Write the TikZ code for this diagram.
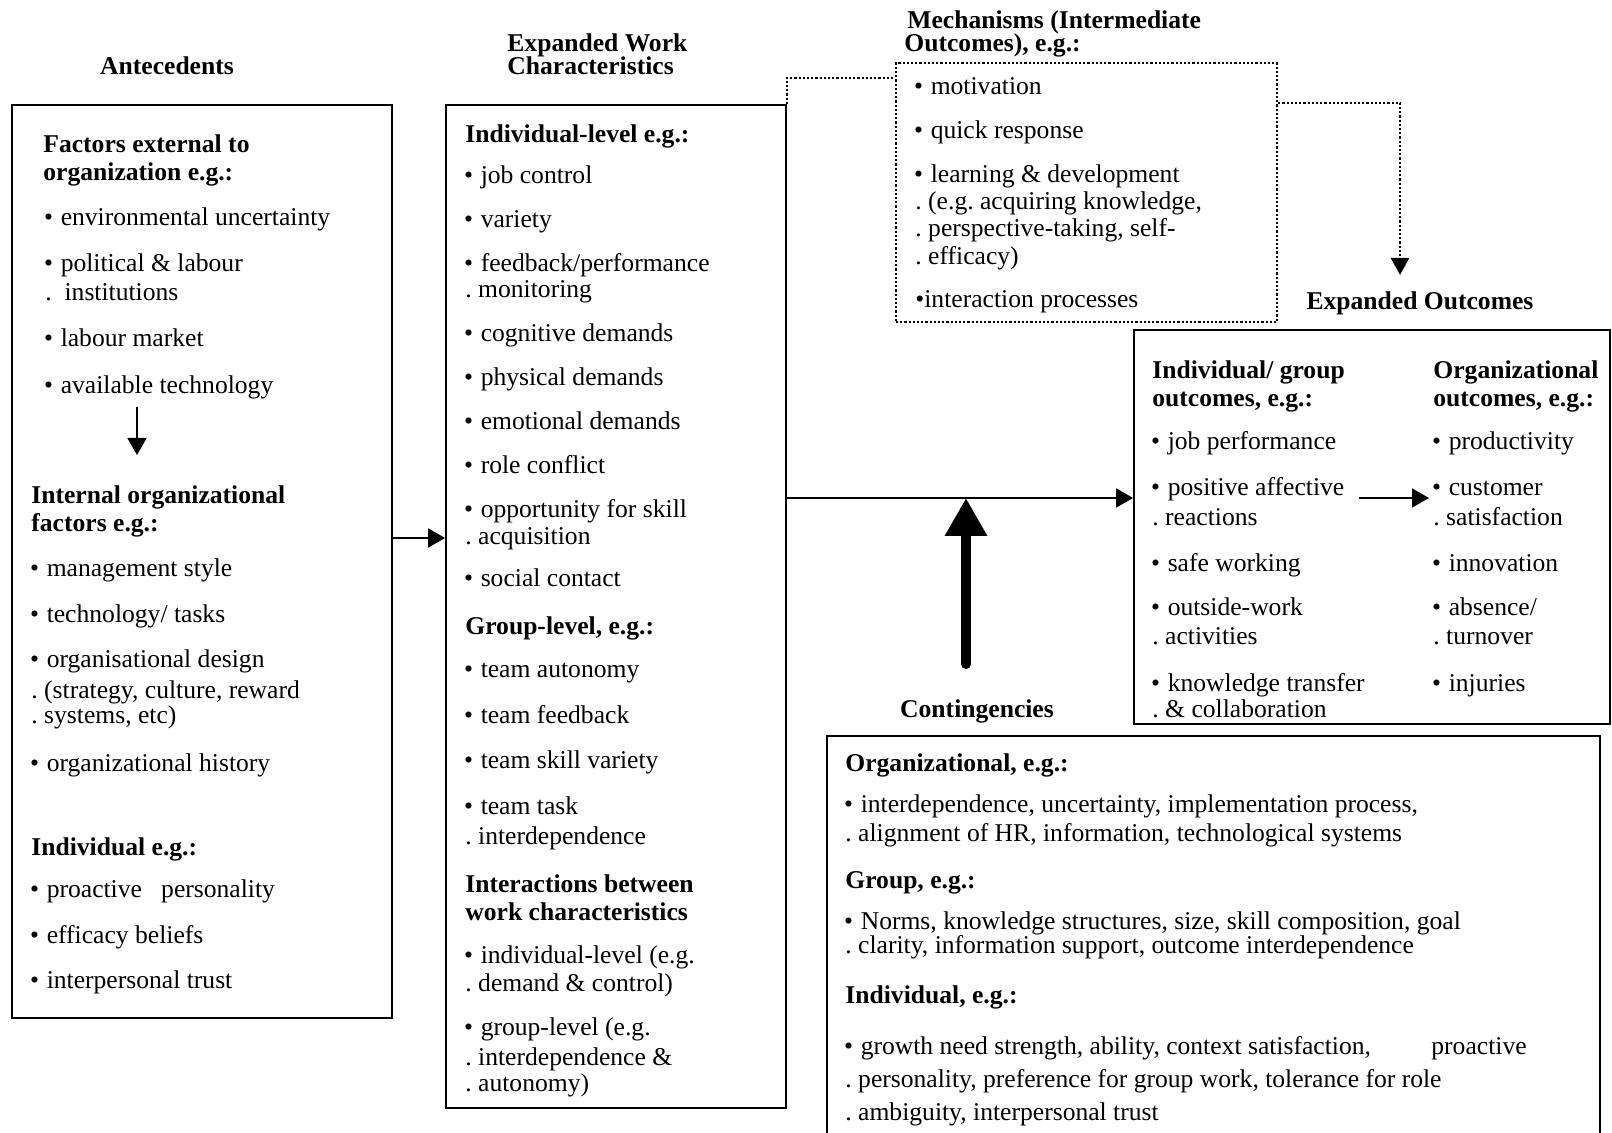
\documentclass[tikz,border=0pt]{standalone}
\usepackage{fontspec}
\setmainfont{Liberation Serif}
\usetikzlibrary{arrows.meta,fit}
\newcommand\TXT[4]{\node[txt] (#1) at (#2,#3) {#4};}
\newcommand\HDR[4]{\node[hd] (#1) at (#2,#3) {#4};}
\newcommand\bu{\kern-0.05em•\hspace{0.3em}}
\tikzset{
 box/.style={draw, line width=0.9pt, inner sep=0pt},
 dbox/.style={draw, line width=1.1pt, densely dotted, inner sep=0pt},
 txt/.style={anchor=base west, inner sep=0pt, font=\fontsize{12.8}{15}\selectfont\frenchspacing},
 hd/.style={txt, font=\fontsize{12.8}{15}\selectfont\frenchspacing\bfseries},
 conn/.style={line width=0.9pt, -{Triangle[length=8.5pt,width=9.5pt]}},
 dconn/.style={line width=1.1pt, densely dotted},
 dconnarr/.style={line width=1.1pt, densely dotted, -{Triangle[length=8.5pt,width=9pt]}},
 bigarrow/.style={line width=5pt, line cap=round, -{Triangle[length=19pt,width=20pt]}},
}
\begin{document}
\begin{tikzpicture}[x=0.5pt,y=-0.5pt]
\useasboundingbox (0,0) rectangle (1612,1133);
\clip (0,0) rectangle (1612,1133);
\fill[white] (0,0) rectangle (1612,1133);

% boxes
\node[box, fit={(12,105) (392,1018)}] (ante) {};
\node[box, fit={(446,105) (786,1108)}] (wc) {};
\node[dbox, fit={(896,63) (1277,322)}] (mech) {};
\node[box, fit={(1134,330) (1610,724)}] (outc) {};
\node[box, fit={(827,736) (1600,1160)}] (cont) {};

% titles
\node[hd, anchor=base] (tAnte) at (167,75) {Antecedents};
\HDR{tWc1}{507}{52}{Expanded Work}
\HDR{tWc2}{507}{75}{Characteristics}
\HDR{tMe1}{907}{29}{Mechanisms (Intermediate}
\HDR{tMe2}{904}{52}{Outcomes), e.g.:}
\node[hd, anchor=base] (tOut) at (1420,310) {Expanded Outcomes};
\node[hd, anchor=base] (tCont) at (977,718) {Contingencies};

% antecedents box
\HDR{a1}{43}{153}{Factors external to}
\HDR{a2}{43}{181}{organization e.g.:}
\TXT{a3}{45}{226}{\bu environmental uncertainty}
\TXT{a4}{45}{272}{\bu political \& labour}
\TXT{a5}{45}{301}{.\ \ institutions}
\TXT{a6}{45}{347}{\bu labour market}
\TXT{a7}{45}{394}{\bu available technology}
\HDR{a8}{31}{504}{Internal organizational}
\HDR{a9}{31}{532}{factors e.g.:}
\TXT{a10}{31}{577}{\bu management style}
\TXT{a11}{31}{623}{\bu technology/ tasks}
\TXT{a12}{31}{668}{\bu organisational design}
\TXT{a13}{31}{698}{. (strategy, culture, reward}
\TXT{a14}{31}{724}{. systems, etc)}
\TXT{a15}{31}{771}{\bu organizational history}
\HDR{a16}{31}{855}{Individual e.g.:}
\TXT{a17}{31}{897}{\bu proactive\ \ \ personality}
\TXT{a18}{31}{943}{\bu efficacy beliefs}
\TXT{a19}{31}{988}{\bu interpersonal trust}

% work characteristics box
\HDR{w1}{465}{143}{Individual-level e.g.:}
\TXT{w2}{465}{184}{\bu job control}
\TXT{w3}{465}{228}{\bu variety}
\TXT{w4}{465}{272}{\bu feedback/performance}
\TXT{w5}{465}{298}{. monitoring}
\TXT{w6}{465}{342}{\bu cognitive demands}
\TXT{w7}{465}{386}{\bu physical demands}
\TXT{w8}{465}{430}{\bu emotional demands}
\TXT{w9}{465}{474}{\bu role conflict}
\TXT{w10}{465}{518}{\bu opportunity for skill}
\TXT{w11}{465}{545}{. acquisition}
\TXT{w12}{465}{587}{\bu social contact}
\HDR{w13}{465}{635}{Group-level, e.g.:}
\TXT{w14}{465}{678}{\bu team autonomy}
\TXT{w15}{465}{724}{\bu team feedback}
\TXT{w16}{465}{769}{\bu team skill variety}
\TXT{w17}{465}{814}{\bu team task}
\TXT{w18}{465}{844}{. interdependence}
\HDR{w19}{465}{892}{Interactions between}
\HDR{w20}{465}{920}{work characteristics}
\TXT{w21}{465}{963}{\bu individual-level (e.g.}
\TXT{w22}{465}{991}{. demand \& control)}
\TXT{w23}{465}{1035}{\bu group-level (e.g.}
\TXT{w24}{465}{1065}{. interdependence \&}
\TXT{w25}{465}{1091}{. autonomy)}

% mechanisms box
\TXT{m1}{915}{95}{\bu motivation}
\TXT{m2}{915}{139}{\bu quick response}
\TXT{m3}{915}{183}{\bu learning \& development}
\TXT{m4}{915}{210}{. (e.g. acquiring knowledge,}
\TXT{m5}{915}{237}{. perspective-taking, self-}
\TXT{m6}{915}{265}{. efficacy)}
\TXT{m7}{915}{308}{•interaction processes}

% outcomes box
\HDR{o1}{1152}{379}{Individual/ group}
\HDR{o2}{1152}{407}{outcomes, e.g.:}
\TXT{o3}{1152}{450}{\bu job performance}
\TXT{o4}{1152}{496}{\bu positive affective}
\TXT{o5}{1152}{526}{. reactions}
\TXT{o6}{1152}{572}{\bu safe working}
\TXT{o7}{1152}{616}{\bu outside-work}
\TXT{o8}{1152}{645}{. activities}
\TXT{o9}{1152}{691}{\bu knowledge transfer}
\TXT{o10}{1152}{718}{. \& collaboration}
\HDR{p1}{1433}{379}{Organizational}
\HDR{p2}{1433}{407}{outcomes, e.g.:}
\TXT{p3}{1433}{450}{\bu productivity}
\TXT{p4}{1433}{496}{\bu customer}
\TXT{p5}{1433}{526}{. satisfaction}
\TXT{p6}{1433}{572}{\bu innovation}
\TXT{p7}{1433}{616}{\bu absence/}
\TXT{p8}{1433}{645}{. turnover}
\TXT{p9}{1433}{691}{\bu injuries}

% contingencies box
\HDR{c1}{845}{771}{Organizational, e.g.:}
\TXT{c2}{845}{812}{\bu interdependence, uncertainty, implementation process,}
\TXT{c3}{845}{841}{. alignment of HR, information, technological systems}
\HDR{c4}{845}{888}{Group, e.g.:}
\TXT{c5}{845}{929}{\bu Norms, knowledge structures, size, skill composition, goal}
\TXT{c6}{845}{953}{. clarity, information support, outcome interdependence}
\HDR{c7}{845}{1003}{Individual, e.g.:}
\TXT{c8}{845}{1054}{\bu growth need strength, ability, context satisfaction,}
\TXT{c9}{1431}{1054}{proactive}
\TXT{c10}{845}{1087}{. personality, preference for group work, tolerance for role}
\TXT{c11}{845}{1120}{. ambiguity, interpersonal trust}

% connector coordinates
\coordinate (extTop) at (137,407);
\coordinate (intTop) at (137,455);
\coordinate (join) at (966,498);
\coordinate (contTop) at (966,664);
\coordinate (indOut) at (1359,498);
\coordinate (orgOut) at (1429,498);
\coordinate (outTip) at (1400,275);

% connectors
\draw[conn] (extTop) -- (intTop);
\draw[conn] (ante.east |- 0,538) -- (wc.west |- 0,538);
\draw[conn] (wc.east |- 0,498) -- (outc.west |- 0,498);
\draw[bigarrow] (contTop) -- (join);
\draw[conn] (indOut) -- (orgOut);
\draw[dconn] (wc.north east) -- (wc.north east |- 0,78) -- (mech.west |- 0,78);
\draw[dconnarr] (mech.east |- 0,103) -| (outTip);
\end{tikzpicture}
\end{document}
